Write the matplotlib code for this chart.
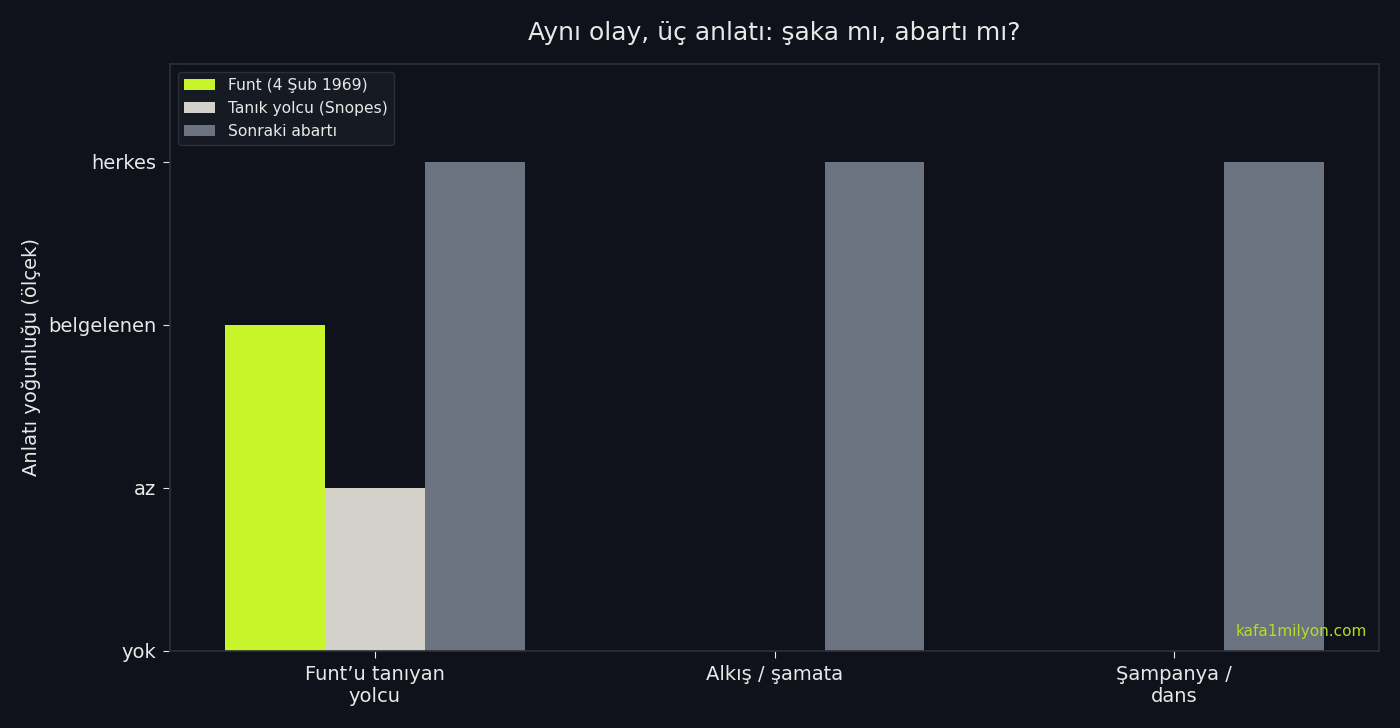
import numpy as np
import matplotlib.pyplot as plt

# ── data ───────────────────────────────────────────────────────────────
categories = ["Funt’u tanıyan\nyolcu", "Alkış / şamata", "Şampanya /\ndans"]
funt = [2, 0, 0]
witness = [1, 0, 0]
later = [3, 3, 3]
level_labels = ["yok", "az", "belgelenen", "herkes"]

BG = "#0f121a"
FG = "#e8e8e8"
SPINE = "#2b2f38"

fig, ax = plt.subplots(figsize=(14, 7.28), dpi=100)
fig.patch.set_facecolor(BG)
ax.set_facecolor(BG)

x = np.arange(len(categories))
w = 0.25
ax.bar(x - w, funt, w, color="#c8f52a", label="Funt (4 Şub 1969)")
ax.bar(x, witness, w, color="#d4d1cb", label="Tanık yolcu (Snopes)")
ax.bar(x + w, later, w, color="#6b7280", label="Sonraki abartı")

ax.set_ylim(0, 3.6)
ax.set_yticks(range(len(level_labels)))
ax.set_yticklabels(level_labels)
ax.set_xticks(x)
ax.set_xticklabels(categories)
ax.tick_params(colors=FG, labelsize=14, length=5)
ax.tick_params(axis="y", pad=5)
ax.tick_params(axis="x", pad=5.5)
for tl in ax.get_xticklabels() + ax.get_yticklabels():
    tl.set_color(FG)
for sp in ax.spines.values():
    sp.set_color(SPINE)
    sp.set_linewidth(1.2)

ax.set_ylabel("Anlatı yoğunluğu (ölçek)", color=FG, fontsize=14, labelpad=5)
ax.set_title("Aynı olay, üç anlatı: şaka mı, abartı mı?", color=FG,
             fontsize=18, pad=17)

leg = ax.legend(loc="upper left", fontsize=11.2, facecolor="#161a22",
                edgecolor=SPINE, labelcolor=FG, framealpha=1.0)

ax.text(0.99, 0.02, "kafa1milyon.com", transform=ax.transAxes,
        ha="right", va="bottom", color="#b5dc26", fontsize=11)

fig.subplots_adjust(left=0.1215, right=0.985, top=0.912, bottom=0.106)
fig.savefig("out.png", facecolor=BG)
